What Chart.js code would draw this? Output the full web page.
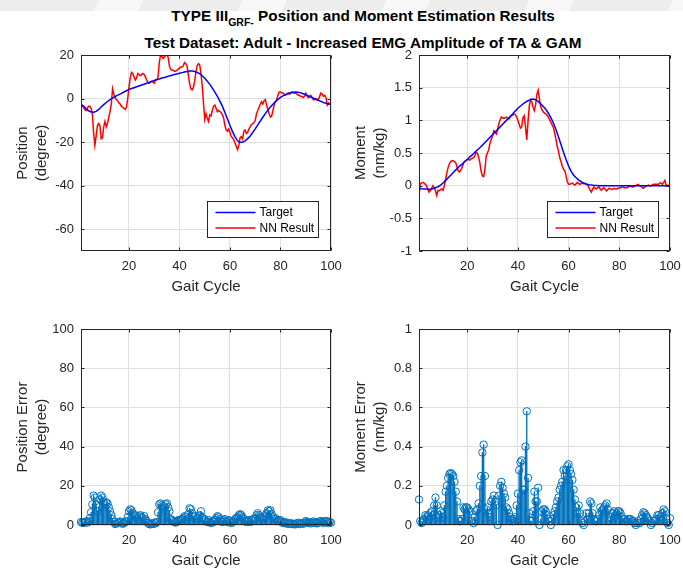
<!DOCTYPE html>
<html>
<head>
<meta charset="utf-8">
<script src="https://cdn.jsdelivr.net/npm/chart.js@4.4.1/dist/chart.umd.min.js"></script>
<style>
  html, body { margin: 0; padding: 0; background: #fff; }
  #fig { position: relative; width: 683px; height: 571px; overflow: hidden; background: #fff;
         font-family: "Liberation Sans", Arial, Helvetica, sans-serif; }
  #band { position: absolute; left: 0; top: 0; width: 683px; height: 11px;
          background: repeating-linear-gradient(115deg, #ededed 0 90px, #f8f8f8 90px 130px); }
  .ttl { position: absolute; left: 0; width: 726px; text-align: center; font-weight: bold;
         font-size: 15.3px; line-height: 16px; color: #000; white-space: nowrap; }
  .ttl sub { font-size: 10.5px; vertical-align: -5px; line-height: 0; }
  canvas { position: absolute; }
</style>
</head>
<body>
<div id="fig">
  <div id="band"></div>
  <div class="ttl" style="top:8px">TYPE III<sub>GRF-</sub> Position and Moment Estimation Results</div>
  <div class="ttl" style="top:35px">Test Dataset: Adult - Increased EMG Amplitude of TA &amp; GAM</div>
  <canvas id="posChart" width="345" height="255" style="left:0;top:45px"></canvas>
  <canvas id="momChart" width="345" height="255" style="left:338px;top:45px"></canvas>
  <canvas id="posErrChart" width="345" height="255" style="left:0;top:319px"></canvas>
  <canvas id="momErrChart" width="345" height="255" style="left:338px;top:319px"></canvas>
</div>
<script>
// ---- tick labels ----
const cycleTicks = [20, 40, 60, 80, 100];
const posTicks = [-60, -40, -20, 0, 20];
const momTicks = [-1, -0.5, 0, 0.5, 1, 1.5, 2];
const posErrTicks = [0, 20, 40, 60, 80, 100];
const momErrTicks = [0, 0.2, 0.4, 0.6, 0.8, 1];

// ---- gait cycle samples ----
const cycle = Array.from({ length: 100 }, (_, i) => i + 1);          // 1 .. 100
const cycleFine = Array.from({ length: 199 }, (_, i) => 1 + i / 2);  // 1, 1.5 .. 100

// ---- position (degree) ----
const posTarget = [
  -2.6,-3.5,-4.6,-5.6,-6.2,-6.3,-5.9,-5.0,-3.9,-2.8,
  -1.8,-0.9,-0.1,0.6,1.2,1.8,2.4,3.0,3.6,4.2,
  4.6,5.0,5.4,5.8,6.2,6.6,7.0,7.4,7.9,8.3,
  8.7,9.0,9.4,9.7,10.0,10.4,10.7,11.0,11.3,11.6,
  11.9,12.2,12.4,12.6,12.6,12.4,12.0,11.4,10.5,9.3,
  8.0,6.5,4.8,3.0,1.0,-1.2,-3.6,-6.4,-9.4,-12.4,
  -15.2,-17.6,-19.4,-20.2,-20.0,-19.4,-18.4,-17.2,-15.6,-13.9,
  -12.1,-10.3,-8.6,-6.9,-5.3,-3.9,-2.6,-1.4,-0.4,0.5,
  1.2,1.8,2.3,2.7,2.9,3.0,2.9,2.6,2.2,1.7,
  1.2,0.7,0.2,-0.3,-0.8,-1.3,-1.8,-2.2,-2.5,-2.7
];
const posNN = [
  -3,-3.5,-4,-5,-5.5,-4.5,-3.5,-3.5,-4.5,-7,
  -16,-21.5,-17,-12.5,-11.5,-12.5,-18.5,-18,-13,-10.5,
  -13,-11.5,-8.5,-6,-2.5,4.5,2,0.5,-0.5,-1,
  -2,-2.5,-3.5,-4,-4.5,-5,-4,0,5,9.5,
  12,11.5,10,8.5,9.5,11.5,11,10.5,11,11.5,
  11,10,8.5,7.5,7,7.5,8,7.5,7,8.5,
  8.5,10,16.5,20,19.5,18.5,19,20,20,19,
  15,13.5,13,13,12.5,12.5,13,13.5,14,14.5,
  14.5,15,16.5,16,15,11,7,4.5,4,5,
  8,12,15,16,15.5,11.5,6,-2,-9.5,-7,
  -9,-10.5,-7.5,-8,-5.5,-3.5,-3,-4.5,-6,-5.5,
  -6,-6.5,-7.5,-9,-12.5,-14.5,-15,-14,-15.5,-17.5,
  -18,-19,-20.5,-22,-23.5,-21.5,-18,-17.5,-18.5,-15,
  -14.5,-16,-15.5,-14,-13,-12,-11.5,-11,-10,-7,
  -5.5,-4,-2.5,-1.5,-2.5,-1,-0.5,-3,-5,-7,
  -8.5,-8,-5.5,-3,-1.5,-0.5,1.5,3,3,2.5,
  2.5,2,1.5,2,2.5,2,2.5,3,2.5,2.5,
  2.5,2,1.5,1.5,1,1,0.5,1,2.5,1.5,
  0.5,1,1.5,0.5,-0.5,-0.5,0,-0.5,-0.5,1,
  2.5,2,1,1.5,0.5,-3,-2,-2.5,-3
];

// ---- moment (nm/kg) ----
const momTarget = [
  -0.045,-0.048,-0.05,-0.052,-0.054,-0.05,-0.04,-0.025,-0.005,0.025,
  0.06,0.10,0.14,0.18,0.22,0.26,0.30,0.33,0.37,0.40,
  0.44,0.47,0.51,0.545,0.58,0.62,0.66,0.70,0.74,0.78,
  0.82,0.86,0.90,0.94,0.98,1.02,1.06,1.10,1.145,1.185,
  1.22,1.25,1.28,1.30,1.32,1.325,1.315,1.29,1.255,1.21,
  1.17,1.11,1.04,0.96,0.86,0.75,0.63,0.51,0.40,0.30,
  0.22,0.16,0.12,0.085,0.06,0.04,0.025,0.015,0.01,0.006,
  0.004,0,0,0,0,0,0,0,0,0,
  0,0,0,0,0,0,0,0,0,0,
  0,0,0,0,0,0,0,0,0,0
];
const momNN = [
  -0.16,0.03,0.04,0.05,0.04,0.02,0.0,-0.06,-0.1,-0.07,
  -0.04,0.0,-0.03,-0.08,-0.15,-0.07,-0.08,-0.06,-0.05,-0.07,
  0.0,0.1,0.2,0.28,0.34,0.37,0.38,0.38,0.37,0.35,
  0.29,0.22,0.21,0.24,0.28,0.34,0.37,0.38,0.40,0.40,
  0.39,0.41,0.42,0.43,0.45,0.51,0.5,0.44,0.35,0.22,
  0.15,0.14,0.25,0.45,0.5,0.55,0.65,0.71,0.76,0.84,
  0.82,0.79,0.86,0.95,1.01,1.05,1.04,1.03,1.04,1.05,
  1.03,1.02,1.06,1.07,1.08,1.1,1.09,1.05,1.0,0.94,
  0.88,0.9,1.04,1.07,0.9,0.7,0.98,1.22,1.31,1.28,
  1.2,1.15,1.24,1.4,1.46,1.33,1.21,1.16,1.13,1.11,
  1.1,1.08,1.05,1.01,0.97,0.93,0.89,0.81,0.71,0.61,
  0.53,0.43,0.37,0.3,0.25,0.23,0.15,0.06,0.02,0.02,
  0.03,0.04,0.02,0.01,0.03,0.05,0.03,0.02,0.03,0.04,
  0.03,0.03,0.02,0.01,-0.03,-0.07,-0.1,-0.05,-0.02,-0.04,
  -0.05,-0.03,-0.02,-0.05,-0.07,-0.04,-0.03,-0.06,-0.08,-0.06,
  -0.04,-0.05,-0.06,-0.05,-0.04,-0.05,-0.05,-0.04,-0.03,-0.03,
  -0.02,-0.02,-0.03,-0.03,-0.03,-0.02,-0.01,-0.01,-0.02,-0.02,
  -0.01,0.0,0.01,0.02,0.0,-0.01,-0.03,-0.04,-0.02,-0.01,
  0.0,0.01,0.0,0.0,0.01,0.02,0.02,0.02,0.02,0.02,
  0.04,0.04,0.02,0.05,0.08,0.0,0.01,0.0,-0.02
];

// ---- absolute errors ----
const posErr = [
  1.5,1.2,1.0,1.5,1.8,1.2,2.0,3.5,6.5,10.5,
  15.0,14.0,10.5,7.0,9.0,13.0,15.0,14.0,12.0,10.5,
  11.5,11.0,9.0,7.0,5.0,3.0,1.5,0.5,0.8,1.2,
  1.5,1.8,1.2,0.6,1.0,1.5,2.0,4.0,7.0,8.0,
  7.5,6.0,4.5,5.0,4.0,3.0,4.5,5.0,4.0,3.5,
  4.5,3.0,2.0,1.0,0.5,0.3,0.8,0.5,1.2,0.8,
  1.5,6.5,10.5,11.0,10.0,8.5,9.5,10.5,11.0,9.0,
  7.0,3.0,2.5,2.0,1.5,1.2,2.0,2.5,2.0,2.8,
  3.0,3.5,4.5,4.0,3.0,5.5,8.5,8.0,6.0,4.0,
  4.5,3.0,3.5,4.5,5.0,7.0,4.0,2.5,3.0,2.0,
  1.5,2.5,1.5,1.0,2.0,1.5,2.5,3.5,4.5,4.0,
  3.0,2.0,1.5,2.5,3.0,2.0,1.5,2.5,2.0,1.0,
  1.5,2.0,3.0,3.5,4.0,5.0,5.5,5.0,4.0,3.0,
  2.0,1.5,2.5,2.0,1.5,2.5,3.0,2.0,3.5,5.0,
  6.0,5.0,4.0,3.0,4.0,3.0,4.5,6.0,7.5,7.0,
  7.5,5.5,4.0,3.0,3.5,2.0,2.5,2.0,2.5,1.5,
  1.0,1.5,0.8,1.2,0.6,1.0,0.5,0.8,0.4,0.6,
  0.3,0.8,1.2,0.5,0.8,1.0,0.6,1.2,2.0,1.5,
  1.0,1.5,0.8,1.2,1.8,1.0,1.5,0.8,1.2,1.8,
  2.0,1.5,1.0,2.0,1.5,2.0,1.0,1.5,1.2
];
const momErr = [
  0.13,0.02,0.01,0.02,0.03,0.05,0.04,0.05,0.03,0.06,
  0.07,0.05,0.1,0.14,0.1,0.04,0.05,0.07,0.06,0.04,
  0.1,0.17,0.2,0.24,0.26,0.265,0.26,0.25,0.22,0.17,
  0.12,0.03,0.02,0.02,0.03,0.09,0.08,0.09,0.09,0.08,
  0.07,0.02,0.02,0.01,0.04,0.07,0.08,0.11,0.2,0.25,
  0.37,0.41,0.25,0.08,0.09,0.06,0.04,0.12,0.13,0.15,
  0.12,0.1,0.0,0.15,0.2,0.22,0.19,0.16,0.14,0.09,
  0.08,0.06,0.04,0.03,0.02,0.03,0.04,0.1,0.16,0.28,
  0.32,0.33,0.18,0.18,0.4,0.58,0.24,0.06,0.02,0.02,
  0.07,0.17,0.12,0.12,0.19,0.0,0.03,0.07,0.08,0.08,
  0.07,0.05,0.03,0.02,0.0,0.03,0.05,0.07,0.09,0.12,
  0.14,0.18,0.2,0.22,0.28,0.25,0.28,0.3,0.31,0.28,
  0.26,0.23,0.18,0.13,0.09,0.06,0.1,0.06,0.02,0.01,
  0.0,0.02,0.06,0.03,0.06,0.12,0.11,0.06,0.03,0.02,
  0.02,0.03,0.05,0.09,0.07,0.08,0.09,0.1,0.11,0.08,
  0.02,0.04,0.06,0.06,0.07,0.05,0.06,0.07,0.07,0.06,
  0.04,0.03,0.03,0.02,0.02,0.03,0.03,0.03,0.02,0.02,
  0.01,0.0,0.01,0.02,0.01,0.03,0.05,0.065,0.06,0.05,
  0.04,0.03,0.02,0.0,0.01,0.02,0.02,0.03,0.05,0.05,
  0.04,0.03,0.06,0.08,0.07,0.03,0.01,0.0,0.035
];

// ---- styling ----
const AXIS = '#262626';
const GRID = '#dfdfdf';
const TARGET_BLUE = '#0000ff';
const NN_RED = '#ff0000';
const STEM = '#0072bd';

Chart.defaults.font.family = '"Liberation Sans", Arial, Helvetica, sans-serif';
Chart.defaults.color = AXIS;
Chart.defaults.animation = false;

const pts = (xs, ys) => ys.map((v, i) => ({ x: xs[i], y: v }));

// Axes box with inward tick marks on all four sides, plus an optional boxed legend.
const framePlugin = {
  id: 'frame',
  afterDatasetsDraw(chart, args, opts) {
    const { ctx, chartArea: a, scales } = chart;
    const L = Math.round(a.left) + 0.5, R = Math.round(a.right) - 0.5;
    const T = Math.round(a.top) + 0.5, B = Math.round(a.bottom) - 0.5;
    ctx.save();
    ctx.strokeStyle = AXIS;
    ctx.lineWidth = 1;
    ctx.strokeRect(L, T, R - L, B - T);
    ctx.beginPath();
    scales.x.ticks.forEach(t => {
      const px = Math.round(scales.x.getPixelForValue(t.value)) + 0.5;
      ctx.moveTo(px, B); ctx.lineTo(px, B - 3);
      ctx.moveTo(px, T); ctx.lineTo(px, T + 3);
    });
    scales.y.ticks.forEach(t => {
      const py = Math.round(scales.y.getPixelForValue(t.value)) + 0.5;
      ctx.moveTo(L, py); ctx.lineTo(L + 3, py);
      ctx.moveTo(R, py); ctx.lineTo(R - 3, py);
    });
    ctx.stroke();

    if (opts && opts.legend) {
      const w = 111, h = 36;
      const bx = Math.round(a.right) - opts.legendRight - w + 0.5;
      const by = Math.round(a.bottom) - 14 - h + 0.5;
      ctx.fillStyle = '#fff';
      ctx.fillRect(bx, by, w, h);
      ctx.strokeStyle = AXIS;
      ctx.strokeRect(bx, by, w, h);
      ctx.font = '12px "Liberation Sans", Arial, sans-serif';
      ctx.textBaseline = 'middle';
      chart.data.datasets.forEach((ds, i) => {
        const cy = by + 11 + i * 15.5;
        ctx.strokeStyle = ds.borderColor;
        ctx.lineWidth = 1.5;
        ctx.beginPath();
        ctx.moveTo(bx + 8, cy); ctx.lineTo(bx + 48, cy);
        ctx.stroke();
        ctx.fillStyle = '#000';
        ctx.fillText(ds.label, bx + 52, cy + 0.5);
      });
    }
    ctx.restore();
  }
};

function scaleOptions(yMin, yMax, yTicks, yTitle) {
  return {
    x: {
      type: 'linear', min: 1, max: 100, offset: false,
      afterBuildTicks: s => { s.ticks = cycleTicks.map(v => ({ value: v })); },
      afterFit: s => { s.height = 49; s.paddingLeft = 0; s.paddingRight = 0; },
      grid: { color: GRID, drawTicks: false, offset: false },
      border: { display: false },
      ticks: { padding: 8, autoSkip: false, maxRotation: 0, font: { size: 13 }, color: AXIS,
               callback: v => String(v) },
      title: { display: true, text: 'Gait Cycle', color: AXIS, font: { size: 15, lineHeight: 1.2 },
               padding: { top: 0, bottom: 4 } }
    },
    y: {
      type: 'linear', min: yMin, max: yMax,
      afterBuildTicks: s => { s.ticks = yTicks.map(v => ({ value: v })); },
      afterFit: s => { s.width = 81; s.paddingTop = 0; s.paddingBottom = 0; },
      grid: { color: GRID, drawTicks: false },
      border: { display: false },
      ticks: { padding: 7, autoSkip: false, font: { size: 13 }, color: AXIS,
               callback: v => String(v) },
      title: { display: true, text: yTitle, color: AXIS, font: { size: 15, lineHeight: 1.3 },
               padding: { top: 13, bottom: 0 } }
    }
  };
}

function lineChart(id, target, nn, yMin, yMax, yTicks, yTitle, rightPad, legendRight) {
  return new Chart(document.getElementById(id), {
    type: 'line',
    data: {
      datasets: [
        { label: 'Target', data: pts(cycle, target), borderColor: TARGET_BLUE, borderWidth: 1.5,
          pointRadius: 0, tension: 0, fill: false },
        { label: 'NN Result', data: pts(cycleFine, nn), borderColor: NN_RED, borderWidth: 1.5,
          pointRadius: 0, tension: 0, fill: false }
      ]
    },
    options: {
      responsive: false,
      layout: { padding: { left: 0, top: 10, right: rightPad, bottom: 0 } },
      plugins: { legend: { display: false }, tooltip: { enabled: false },
                 frame: { legend: true, legendRight } },
      scales: scaleOptions(yMin, yMax, yTicks, yTitle)
    },
    plugins: [framePlugin]
  });
}

function stemChart(id, err, yMin, yMax, yTicks, yTitle, rightPad) {
  return new Chart(document.getElementById(id), {
    type: 'line',
    data: {
      datasets: [
        { type: 'bar', data: pts(cycleFine, err), backgroundColor: STEM, borderWidth: 0,
          barThickness: 0.7, grouped: false },
        { type: 'line', data: pts(cycleFine, err), showLine: false, pointStyle: 'circle',
          pointRadius: 3.7, pointBorderWidth: 1, pointBorderColor: STEM,
          pointBackgroundColor: 'rgba(0,0,0,0)', clip: false }
      ]
    },
    options: {
      responsive: false,
      layout: { padding: { left: 0, top: 10, right: rightPad, bottom: 0 } },
      plugins: { legend: { display: false }, tooltip: { enabled: false }, frame: {} },
      scales: scaleOptions(yMin, yMax, yTicks, yTitle)
    },
    plugins: [framePlugin]
  });
}

lineChart('posChart', posTarget, posNN, -70, 20, posTicks, ['Position', '(degree)'], 14, 13);
lineChart('momChart', momTarget, momNN, -1, 2, momTicks, ['Moment', '(nm/kg)'], 13, 12);
stemChart('posErrChart', posErr, 0, 100, posErrTicks, ['Position Error', '(degree)'], 14);
stemChart('momErrChart', momErr, 0, 1, momErrTicks, ['Moment Error', '(nm/kg)'], 13);
</script>
</body>
</html>
